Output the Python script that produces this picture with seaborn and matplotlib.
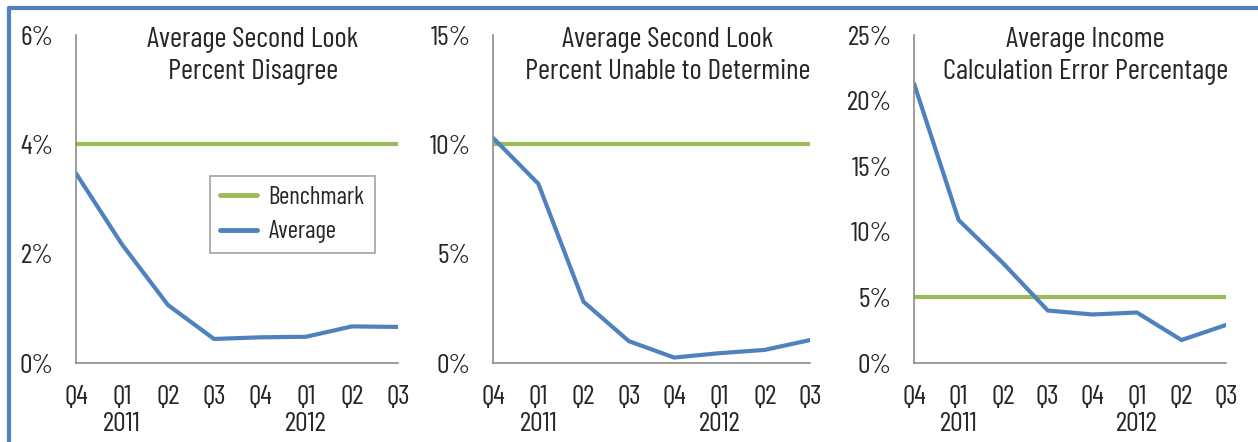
import matplotlib
matplotlib.use("Agg")
import matplotlib.pyplot as plt
import matplotlib.ticker as mtick
from matplotlib.lines import Line2D
import pandas as pd
import seaborn as sns

quarters = ["Q4", "Q1", "Q2", "Q3", "Q4", "Q1", "Q2", "Q3"]
years = ["", "2011", "", "", "", "2012", "", ""]

disagree_avg = [3.47, 2.17, 1.06, 0.44, 0.47, 0.48, 0.67, 0.66]
disagree_bench = [4, 4, 4, 4, 4, 4, 4, 4]

unable_avg = [10.3, 8.2, 2.8, 1.0, 0.25, 0.45, 0.6, 1.05]
unable_bench = [10, 10, 10, 10, 10, 10, 10, 10]

income_avg = [21.3, 10.9, 7.6, 4.0, 3.7, 3.85, 1.75, 2.9]
income_bench = [5, 5, 5, 5, 5, 5, 5, 5]

titles = ["Average Second Look\nPercent Disagree",
          "Average Second Look\nPercent Unable to Determine",
          "Average Income\nCalculation Error Percentage"]
ymaxes = [6, 15, 25]
ysteps = [2, 5, 5]

GREEN = "#9BBB59"
BLUE = "#4F81BD"

sns.set_style("white")
plt.rcParams["font.family"] = ["Saira Extra Condensed", "Barlow Condensed",
                               "DejaVu Sans"]

fig = plt.figure(figsize=(12.58, 4.42), dpi=100)

# axes boxes in figure fractions
boxes = [(0.0604, 0.1787, 0.256, 0.742),
         (0.3919, 0.1787, 0.252, 0.742),
         (0.7266, 0.1787, 0.248, 0.742)]

series = [(disagree_avg, disagree_bench),
          (unable_avg, unable_bench),
          (income_avg, income_bench)]

for i, (box, (avg, bench)) in enumerate(zip(boxes, series)):
    ax = fig.add_axes(box)
    n = len(quarters)
    df = pd.DataFrame({
        "x": list(range(n)) * 2,
        "value": bench + avg,
        "series": ["Benchmark"] * n + ["Average"] * n,
    })
    sns.lineplot(data=df, x="x", y="value", hue="series",
                 palette={"Benchmark": GREEN, "Average": BLUE},
                 linewidth=3, ax=ax, legend=False)
    ax.set_xlim(0, n - 1)
    ax.set_ylim(0, ymaxes[i])
    ax.set_yticks(range(0, ymaxes[i] + 1, ysteps[i]))
    ax.yaxis.set_major_formatter(mtick.FuncFormatter(lambda v, p: f"{v:.0f}%"))
    ax.set_xticks(range(n))
    ax.set_xticklabels([f"{q}\n{y}" for q, y in zip(quarters, years)],
                       linespacing=1.15)
    ax.tick_params(axis="both", length=0, labelsize=20)
    ax.tick_params(axis="x", pad=16)
    ax.tick_params(axis="y", pad=16)
    ax.set_xlabel("")
    ax.set_ylabel("")
    for s in ["top", "right"]:
        ax.spines[s].set_visible(False)
    for s in ["left", "bottom"]:
        ax.spines[s].set_color("#8c8c8c")
        ax.spines[s].set_linewidth(1.2)
    ax.text(0.55, 1.025, titles[i], transform=ax.transAxes, ha="center",
            va="top", fontsize=21, linespacing=1.33)
    if i == 0:
        handles = [Line2D([], [], color=GREEN, lw=3.5),
                   Line2D([], [], color=BLUE, lw=3.5)]
        leg = ax.legend(handles, ["Benchmark", "Average"], loc="upper left",
                        bbox_to_anchor=(0.416, 0.57), fontsize=18,
                        fancybox=False, frameon=True, handlelength=1.5,
                        handletextpad=0.45, borderpad=0.4,
                        labelspacing=0.45, borderaxespad=0)
        leg.get_frame().set_edgecolor("#8c8c8c")
        leg.get_frame().set_linewidth(1.2)

# blue frame along left and top edges
fig.add_artist(Line2D([0.0072, 0.0072], [0, 0.982], color=BLUE, lw=3,
                      transform=fig.transFigure))
fig.add_artist(Line2D([0.0072, 1.0], [0.982, 0.982], color=BLUE, lw=3,
                      transform=fig.transFigure))

fig.savefig("out.png", dpi=100)
